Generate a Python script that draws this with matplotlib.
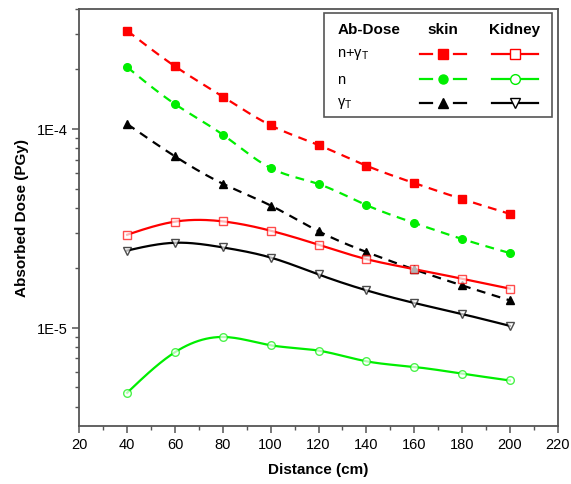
import numpy as np
import matplotlib
matplotlib.use("Agg")
import matplotlib.pyplot as plt
from matplotlib.lines import Line2D
from matplotlib.ticker import LogLocator, FixedLocator, MultipleLocator, NullFormatter
from matplotlib.patches import Rectangle

plt.rcParams['font.family'] = ['Liberation Sans', 'DejaVu Sans']

distance = [40, 60, 80, 100, 120, 140, 160, 180, 200]
skin_total = [3.11e-4, 2.06e-4, 1.45e-4, 1.04e-4, 8.28e-5, 6.52e-5, 5.33e-5, 4.43e-5, 3.73e-5]
skin_n = [2.04e-4, 1.33e-4, 9.33e-5, 6.34e-5, 5.27e-5, 4.13e-5, 3.36e-5, 2.79e-5, 2.37e-5]
skin_gamma = [1.056e-4, 7.26e-5, 5.29e-5, 4.11e-5, 3.05e-5, 2.40e-5, 1.96e-5, 1.63e-5, 1.37e-5]
kidney_total = [2.93e-5, 3.41e-5, 3.42e-5, 3.07e-5, 2.61e-5, 2.21e-5, 1.97e-5, 1.76e-5, 1.57e-5]
kidney_n = [4.70e-6, 7.52e-6, 8.97e-6, 8.15e-6, 7.66e-6, 6.77e-6, 6.34e-6, 5.87e-6, 5.42e-6]
kidney_gamma = [2.44e-5, 2.67e-5, 2.53e-5, 2.25e-5, 1.85e-5, 1.54e-5, 1.33e-5, 1.17e-5, 1.02e-5]

xticks = [20, 40, 60, 80, 100, 120, 140, 160, 180, 200, 220]


def natural_spline(x, y, n=200):
    x = np.asarray(x, float)
    y = np.asarray(y, float)
    m = len(x)
    h = np.diff(x)
    A = np.zeros((m, m))
    b = np.zeros(m)
    A[0, 0] = 1
    A[-1, -1] = 1
    for i in range(1, m - 1):
        A[i, i - 1] = h[i - 1]
        A[i, i] = 2 * (h[i - 1] + h[i])
        A[i, i + 1] = h[i]
        b[i] = 3 * ((y[i + 1] - y[i]) / h[i] - (y[i] - y[i - 1]) / h[i - 1])
    c = np.linalg.solve(A, b)
    xs = np.linspace(x[0], x[-1], n)
    ys = np.empty_like(xs)
    for k, xv in enumerate(xs):
        i = min(np.searchsorted(x, xv, side='right') - 1, m - 2)
        dx = xv - x[i]
        bi = (y[i + 1] - y[i]) / h[i] - h[i] * (2 * c[i] + c[i + 1]) / 3
        di = (c[i + 1] - c[i]) / (3 * h[i])
        ys[k] = y[i] + bi * dx + c[i] * dx ** 2 + di * dx ** 3
    return xs, ys


def smooth(x, y):
    xs, ly = natural_spline(x, np.log10(y))
    return xs, 10 ** ly


fig = plt.figure(figsize=(5.71, 4.85), dpi=100)
ax = fig.add_axes([0.1389, 0.1196, 0.8378, 0.8598])

RED = '#ff0000'
GREEN = '#00ee00'
BLACK = '#000000'

series = [
    (skin_total, RED, 's', True),
    (skin_n, GREEN, 'o', True),
    (skin_gamma, BLACK, '^', True),
    (kidney_total, RED, 's', False),
    (kidney_n, GREEN, 'o', False),
    (kidney_gamma, BLACK, 'v', False),
]

for vals, col, mk, filled in series:
    xs, ys = smooth(distance, vals)
    if filled:
        ax.plot(xs, ys, color=col, lw=1.6, dashes=(4, 3), zorder=2)
        ax.plot(distance, vals, ls='none', marker=mk, ms=5.5, color=col, zorder=3)
    else:
        ax.plot(xs, ys, color=col, lw=1.6, zorder=2)
        ax.plot(distance, vals, ls='none', marker=mk, ms=5.5, mfc='white',
                mec=col, mew=1.0, alpha=0.7, zorder=3)

ax.set_yscale('log')
ax.set_xlim(20, 220)
ax.set_ylim(3.2e-6, 4e-4)
ax.xaxis.set_major_locator(FixedLocator(xticks))
ax.xaxis.set_minor_locator(MultipleLocator(10))
ax.yaxis.set_major_locator(FixedLocator([1e-5, 1e-4]))
ax.yaxis.set_minor_locator(LogLocator(base=10, subs=np.arange(2, 10)))
ax.yaxis.set_minor_formatter(NullFormatter())
ax.set_yticklabels(['1E-5', '1E-4'])
ax.set_xticklabels([str(t) for t in xticks])

spine_col = '#555555'
for s in ax.spines.values():
    s.set_color(spine_col)
    s.set_linewidth(1.3)
ax.tick_params(axis='both', which='major', direction='out', length=5, width=1.1,
               color=spine_col, labelsize=10.5, pad=3)
ax.tick_params(axis='both', which='minor', direction='out', length=3, width=1.0,
               color=spine_col)

ax.set_xlabel('Distance (cm)', fontsize=11, fontweight='bold', labelpad=8)
ax.set_ylabel('Absorbed Dose (PGy)', fontsize=11, fontweight='bold', labelpad=6)

# legend table
tr = ax.transAxes
x0, x1, y0, y1 = 0.5115, 0.988, 0.741, 0.990
ax.add_patch(Rectangle((x0, y0), x1 - x0, y1 - y0, transform=tr, fill=True,
                       facecolor='white', edgecolor='#555555', lw=1.2, zorder=5))


def ax_x(px):
    return (px - 79.3) / 478.4


def ax_y(py):
    return (427 - py) / 417.0


ax.text(ax_x(338), ax_y(30), 'Ab-Dose', transform=tr, fontsize=11, fontweight='bold',
        ha='left', va='center', zorder=6)
ax.text(ax_x(443), ax_y(30), 'skin', transform=tr, fontsize=11, fontweight='bold',
        ha='center', va='center', zorder=6)
ax.text(ax_x(515), ax_y(30), 'Kidney', transform=tr, fontsize=11, fontweight='bold',
        ha='center', va='center', zorder=6)

row_labels = [r'n+$\mathregular{\gamma_T}$', 'n', r'$\mathregular{\gamma_T}$']
row_y = [55, 80, 104]
for lab, ry in zip(row_labels, row_y):
    ax.text(ax_x(337), ax_y(ry), lab, transform=tr, fontsize=10.5, ha='left',
            va='center', zorder=6)

for i, (vals, col, mk, filled) in enumerate(series):
    ry = ax_y(row_y[i % 3])
    if filled:
        ax.add_line(Line2D([ax_x(420), ax_x(432)], [ry, ry], transform=tr, color=col,
                           lw=1.6, zorder=6))
        ax.add_line(Line2D([ax_x(454), ax_x(466)], [ry, ry], transform=tr, color=col,
                           lw=1.6, zorder=6))
        ax.add_line(Line2D([ax_x(443)], [ry], transform=tr, color=col, marker=mk, ms=6.5,
                           ls='none', zorder=7))
    else:
        ax.add_line(Line2D([ax_x(492), ax_x(538)], [ry, ry], transform=tr, color=col,
                           lw=1.6, zorder=6))
        ax.add_line(Line2D([ax_x(515)], [ry], transform=tr, color=col, marker=mk, ms=7,
                           mfc='white', mec=col, mew=1.0, ls='none', zorder=7))

fig.savefig('out.png', dpi=100)
